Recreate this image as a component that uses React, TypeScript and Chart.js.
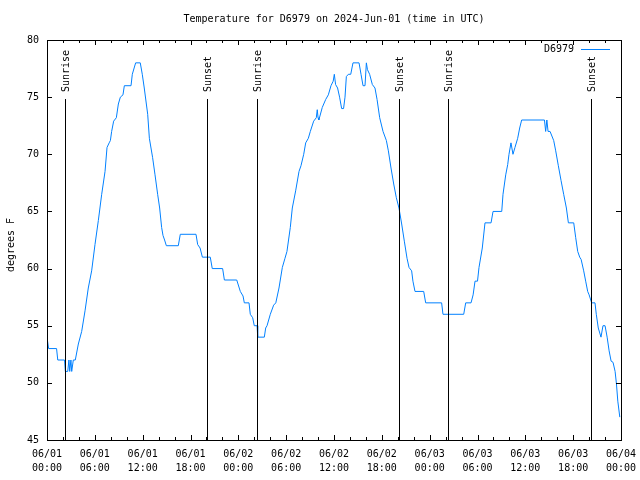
import React, { useEffect, useRef } from "react";
import { Chart, registerables } from "chart.js";

Chart.register(...registerables);

const TITLE = "Temperature for D6979 on 2024-Jun-01 (time in UTC)";
const SERIES_NAME = "D6979";
const Y_LABEL = "degrees F";
const DATE_LABELS = ["06/01", "06/02", "06/03", "06/04"];
const SUN_HOURS = [2.3, 20.1, 26.38, 44.2, 50.34, 68.28];
const SUN_LABELS = ["Sunrise", "Sunset", "Sunrise", "Sunset", "Sunrise", "Sunset"];

// hours since 2024-06-01 00:00 UTC
const HOURS = [
  0.0, 0.2, 1.2, 1.35, 2.2, 2.3, 2.6, 2.75, 2.85, 3.0, 3.1, 3.3, 3.55, 3.93, 4.35, 4.77, 5.18, 5.6,
  6.02, 6.44, 6.86, 7.28, 7.53, 7.8, 7.95, 8.11, 8.36, 8.7, 8.95, 9.2, 9.53, 9.7, 10.54, 10.7,
  11.12, 11.7, 11.95, 12.2, 12.63, 12.84, 13.25, 13.55, 13.88, 14.13, 14.38, 14.55, 14.75, 14.97,
  16.47, 16.72, 18.69, 18.9, 19.2, 19.49, 20.48, 20.73, 22.03, 22.25, 23.8, 24.25, 24.59, 24.75,
  25.34, 25.5, 25.8, 26.0, 26.35, 26.43, 27.26, 27.43, 27.6, 28.01, 28.43, 28.7, 29.1, 29.52,
  29.85, 30.1, 30.52, 30.77, 31.19, 31.61, 31.86, 32.2, 32.45, 32.78, 33.03, 33.45, 33.78, 33.9,
  34.0, 34.1, 34.53, 34.96, 35.29, 35.62, 35.9, 36.04, 36.2, 36.45, 36.7, 36.96, 37.2, 37.38,
  37.55, 37.8, 38.1, 38.38, 39.14, 39.39, 39.64, 39.89, 40.06, 40.2, 40.47, 40.81, 41.14, 41.4,
  41.73, 42.15, 42.57, 42.82, 43.15, 43.49, 43.82, 44.15, 44.49, 44.82, 45.16, 45.41, 45.74,
  45.9, 46.16, 47.25, 47.5, 49.5, 49.67, 52.27, 52.52, 53.19, 53.45, 53.69, 54.0, 54.19, 54.6,
  54.94, 55.7, 55.95, 57.04, 57.2, 57.54, 57.79, 57.95, 58.2, 58.45, 58.7, 59.04, 59.29, 59.54,
  62.4, 62.55, 62.7, 62.85, 63.1, 63.56, 63.81, 64.14, 64.48, 64.81, 65.15, 65.4, 66.07, 66.32,
  66.57, 66.82, 67.0, 67.32, 67.57, 67.82, 68.0, 68.32, 68.74, 68.9, 69.15, 69.49, 69.74, 70.0,
  70.26, 70.51, 70.76, 71.0, 71.26, 71.43, 71.6, 71.85,
];

const TEMPS = [
  54, 53, 53, 52, 52, 51, 51, 52, 51, 52, 51, 52, 52, 53.4, 54.5, 56.3, 58.3, 59.8,
  62.1, 64.2, 66.5, 68.5, 70.6, 71, 71.2, 72, 72.9, 73.2, 74.4, 75, 75.2, 76, 76, 77,
  78, 78, 77, 75.8, 73.5, 71.4, 69.7, 68.2, 66.5, 65.3, 63.6, 62.9, 62.5, 62,
  62, 63, 63, 62.1, 61.8, 61, 61, 60, 60, 59, 59, 58, 57.6, 57,
  57, 56, 55.7, 55, 55, 54, 54, 54.8, 55, 56, 56.8, 57, 58.3, 60.1,
  60.9, 61.5, 63.6, 65.3, 66.8, 68.5, 69, 70, 71, 71.4, 72, 72.9, 73.2, 73.9,
  73.2, 73, 74.1, 74.8, 75.2, 76, 76.4, 77, 76.1, 75.8, 75, 74, 74, 75,
  76.8, 77, 77, 78, 78, 77, 76, 76, 78, 77.4, 77, 76.1, 75.8, 74.8,
  73.2, 72, 71.2, 70.3, 68.8, 67.4, 66.2, 65.3, 63.9, 62.4, 60.9, 60.1, 59.8,
  58.9, 58, 58, 57, 57, 56, 56, 57, 57, 57.7, 58.9, 58.9, 60.1, 61.8,
  64, 64, 65, 65, 66.5, 68.2, 69.1, 70, 71, 70, 70.6, 71.4, 72.3, 73,
  73, 72, 73, 72, 72, 71.2, 70.3, 69, 67.7, 66.5, 65.3, 64, 64, 62.7,
  61.5, 61, 60.8, 59.8, 58.9, 58, 57.7, 57, 57, 56, 54.8, 54, 55, 55,
  54, 52.8, 51.9, 51.8, 51, 49.9, 48.4, 47,
];

const LINE_COLOR = "rgb(0,128,255)";
const FONT_FAMILY = "'DejaVu Sans Mono', 'Liberation Mono', monospace";

function pad2(n: number): string {
  return n < 10 ? "0" + n : String(n);
}

const overlayPlugin = {
  id: "gnuplotOverlay",
  afterDraw(chart: any) {
    const ctx = chart.ctx as CanvasRenderingContext2D;
    const area = chart.chartArea;
    const xs = chart.scales.x;
    const ys = chart.scales.y;
    ctx.save();
    ctx.strokeStyle = "#000";
    ctx.fillStyle = "#000";
    ctx.lineWidth = 1;

    // frame
    ctx.strokeRect(area.left + 0.5, area.top + 0.5, area.right - area.left, area.bottom - area.top);

    // x ticks (major 6h, minor 2h), bottom and mirrored top
    for (let h = 0; h <= 72; h += 2) {
      const px = Math.round(xs.getPixelForValue(h)) + 0.5;
      const len = h % 6 === 0 ? 5 : 3;
      ctx.beginPath();
      ctx.moveTo(px, area.bottom);
      ctx.lineTo(px, area.bottom - len);
      ctx.moveTo(px, area.top);
      ctx.lineTo(px, area.top + len);
      ctx.stroke();
    }
    // y ticks
    for (let v = 45; v <= 80; v += 5) {
      const py = Math.round(ys.getPixelForValue(v)) + 0.5;
      ctx.beginPath();
      ctx.moveTo(area.left, py);
      ctx.lineTo(area.left + 5, py);
      ctx.moveTo(area.right, py);
      ctx.lineTo(area.right - 5, py);
      ctx.stroke();
    }

    // sunrise / sunset lines
    ctx.font = "10px " + FONT_FAMILY;
    for (let i = 0; i < SUN_HOURS.length; i++) {
      const px = Math.round(xs.getPixelForValue(SUN_HOURS[i])) + 0.5;
      ctx.beginPath();
      ctx.moveTo(px, 99);
      ctx.lineTo(px, area.bottom);
      ctx.stroke();
      ctx.save();
      ctx.translate(px + 1, 92);
      ctx.rotate(-Math.PI / 2);
      ctx.textAlign = "left";
      ctx.textBaseline = "middle";
      ctx.fillText(SUN_LABELS[i], 0, 0);
      ctx.restore();
    }

    // title
    ctx.textAlign = "center";
    ctx.textBaseline = "middle";
    ctx.fillText(TITLE, (area.left + area.right) / 2, 19);

    // y axis label
    ctx.save();
    ctx.translate(11, 245);
    ctx.rotate(-Math.PI / 2);
    ctx.fillText(Y_LABEL, 0, 0);
    ctx.restore();

    // legend
    ctx.textAlign = "right";
    ctx.fillText(SERIES_NAME, 574, 49);
    ctx.strokeStyle = LINE_COLOR;
    ctx.beginPath();
    ctx.moveTo(581, 49.5);
    ctx.lineTo(610, 49.5);
    ctx.stroke();

    ctx.restore();
  },
};

export default function App() {
  const canvasRef = useRef<HTMLCanvasElement | null>(null);

  useEffect(() => {
    const canvas = canvasRef.current;
    if (!canvas) return;
    const tickFont = { family: FONT_FAMILY, size: 10, lineHeight: 1.4 };
    const chart = new Chart(canvas, {
      type: "line",
      data: {
        datasets: [
          {
            label: SERIES_NAME,
            data: HOURS.map((h, i) => ({ x: h, y: TEMPS[i] })),
            borderColor: LINE_COLOR,
            backgroundColor: LINE_COLOR,
            borderWidth: 1,
            pointRadius: 0,
            tension: 0,
            fill: false,
          },
        ],
      },
      options: {
        responsive: false,
        animation: false,
        devicePixelRatio: 1,
        layout: { padding: { left: 0, right: 19, top: 40, bottom: 0 } },
        plugins: {
          legend: { display: false },
          title: { display: false },
          tooltip: { enabled: false },
        },
        scales: {
          x: {
            type: "linear",
            min: 0,
            max: 72,
            ticks: {
              stepSize: 6,
              autoSkip: false,
              maxRotation: 0,
              minRotation: 0,
              padding: 7,
              color: "#000",
              font: tickFont,
              callback: (value: any) => {
                const v = Number(value);
                const day = Math.floor(v / 24);
                const hh = v - day * 24;
                return [DATE_LABELS[day], pad2(hh) + ":00"];
              },
            },
            grid: { display: false, drawTicks: false },
            border: { display: false },
            afterFit: (s: any) => {
              s.height = 40;
              s.paddingLeft = 0;
              s.paddingRight = 0;
            },
          },
          y: {
            type: "linear",
            min: 45,
            max: 80,
            ticks: {
              stepSize: 5,
              padding: 8,
              color: "#000",
              font: tickFont,
            },
            grid: { display: false, drawTicks: false },
            border: { display: false },
            afterFit: (s: any) => {
              s.width = 47;
              s.paddingTop = 0;
              s.paddingBottom = 0;
            },
          },
        },
      },
      plugins: [overlayPlugin],
    } as any);
    return () => chart.destroy();
  }, []);

  return (
    <div style={{ position: "fixed", left: 0, top: 0, width: 640, height: 480, background: "#fff" }}>
      <canvas ref={canvasRef} width={640} height={480} />
    </div>
  );
}
